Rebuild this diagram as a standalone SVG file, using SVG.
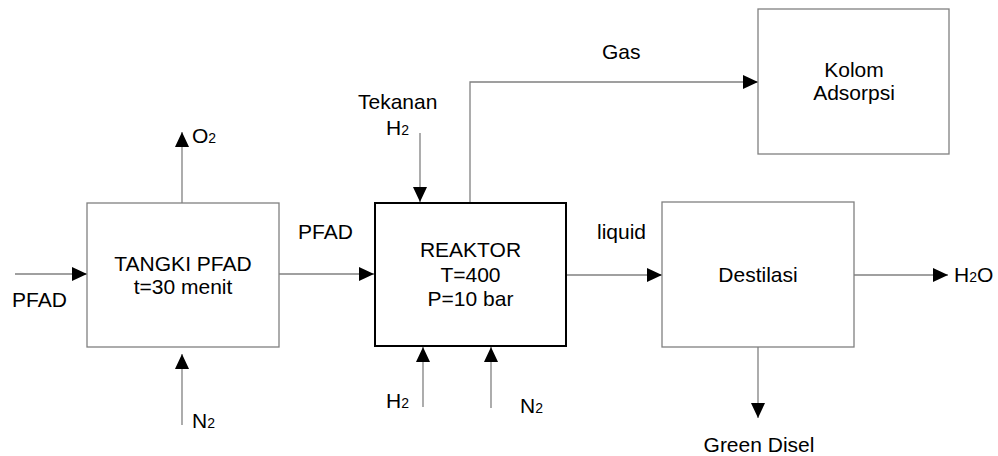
<svg xmlns="http://www.w3.org/2000/svg" width="998" height="456" viewBox="0 0 998 456">
<style>
.box{fill:#fff;stroke:#808080;stroke-width:1.3}
.rk{fill:#fff;stroke:#000;stroke-width:2}
.ln{fill:none;stroke:#808080;stroke-width:1.3}
text{font-family:"Liberation Sans",Arial,sans-serif;font-size:21px;fill:#000}
.c{text-anchor:middle}
.s{font-size:14px}
</style>
<defs>
<marker id="ah" markerUnits="userSpaceOnUse" markerWidth="16" markerHeight="14" refX="15" refY="7" orient="auto">
<path d="M0,0 L15,7 L0,14 Z" fill="#000"/>
</marker>
</defs>
<rect width="998" height="456" fill="#fff"/>
<g id="connectors">
<line class="ln" x1="15" y1="274" x2="87" y2="274" marker-end="url(#ah)"/>
<line class="ln" x1="182" y1="203" x2="182" y2="132" marker-end="url(#ah)"/>
<line class="ln" x1="182" y1="425" x2="182" y2="354" marker-end="url(#ah)"/>
<line class="ln" x1="279" y1="274" x2="374" y2="274" marker-end="url(#ah)"/>
<line class="ln" x1="420" y1="133" x2="420" y2="202" marker-end="url(#ah)"/>
<line class="ln" x1="423" y1="407" x2="423" y2="347" marker-end="url(#ah)"/>
<line class="ln" x1="491" y1="408" x2="491" y2="347" marker-end="url(#ah)"/>
<polyline class="ln" points="470,202 470,82 758,82" marker-end="url(#ah)"/>
<line class="ln" x1="567" y1="275" x2="662" y2="275" marker-end="url(#ah)"/>
<line class="ln" x1="854" y1="275" x2="948" y2="275" marker-end="url(#ah)"/>
<line class="ln" x1="758" y1="347" x2="758" y2="418" marker-end="url(#ah)"/>
</g>
<g id="tangki">
<rect class="box" x="87" y="203" width="192" height="144"/>
<text class="c" x="183" y="271">TANGKI PFAD</text>
<text class="c" x="183" y="294">t=30 menit</text>
</g>
<g id="reaktor">
<rect class="rk" x="375" y="203" width="191" height="143"/>
<text class="c" x="470.5" y="257">REAKTOR</text>
<text class="c" x="470.5" y="282">T=400</text>
<text class="c" x="470.5" y="306">P=10 bar</text>
</g>
<g id="kolom">
<rect class="box" x="758" y="9" width="191" height="145"/>
<text class="c" x="854" y="77">Kolom</text>
<text class="c" x="854" y="100">Adsorpsi</text>
</g>
<g id="destilasi">
<rect class="box" x="662" y="202" width="192" height="145"/>
<text class="c" x="758" y="282">Destilasi</text>
</g>
<g id="labels">
<text x="12" y="307">PFAD</text>
<text x="192" y="143">O<tspan class="s">2</tspan></text>
<text x="192" y="428">N<tspan class="s">2</tspan></text>
<text x="298" y="239">PFAD</text>
<text x="358" y="109">Tekanan</text>
<text x="386" y="135">H<tspan class="s">2</tspan></text>
<text x="386" y="408">H<tspan class="s">2</tspan></text>
<text x="520" y="413">N<tspan class="s">2</tspan></text>
<text x="602" y="59">Gas</text>
<text x="597" y="239">liquid</text>
<text x="954" y="282">H<tspan class="s">2</tspan>O</text>
<text class="c" x="759" y="452">Green Disel</text>
</g>
</svg>
